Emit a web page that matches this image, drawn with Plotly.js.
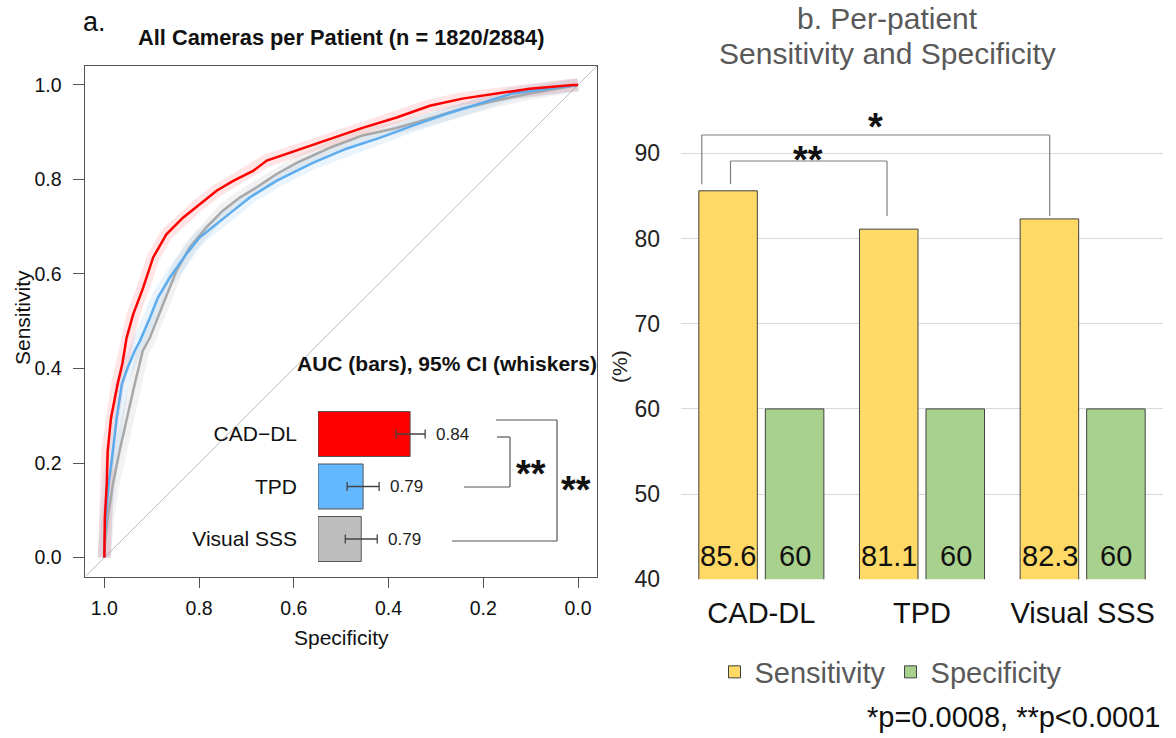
<!DOCTYPE html>
<html>
<head>
<meta charset="utf-8">
<script src="https://cdn.plot.ly/plotly-3.0.1.min.js"></script>
<style>html,body{margin:0;padding:0;background:#fff;}#chart{width:1176px;height:738px;}</style>
</head>
<body>
<div id="chart"></div>
<script>
// ---------- Panel a: ROC curves (specificity, sensitivity) ----------
const specCAD = [1.000,1.000,0.999,0.995,0.993,0.986,0.972,0.962,0.953,0.939,0.918,0.897,0.869,0.834,0.799,0.763,0.728,0.686,0.657,0.594,0.524,0.455,0.383,0.313,0.244,0.172,0.102,0.011,0.000];
const sensCAD = [0.000,0.028,0.083,0.155,0.225,0.295,0.367,0.410,0.465,0.515,0.571,0.635,0.684,0.719,0.748,0.776,0.797,0.818,0.840,0.861,0.886,0.909,0.931,0.956,0.971,0.982,0.992,1.000,1.000];
const specTPD = [1.000,1.000,0.997,0.991,0.982,0.974,0.963,0.951,0.936,0.925,0.904,0.887,0.862,0.827,0.799,0.763,0.728,0.693,0.658,0.637,0.560,0.489,0.419,0.349,0.277,0.208,0.138,0.066,0.000];
const sensTPD = [0.000,0.028,0.083,0.155,0.225,0.295,0.367,0.401,0.437,0.458,0.507,0.550,0.592,0.642,0.677,0.705,0.734,0.762,0.783,0.797,0.835,0.865,0.888,0.914,0.939,0.960,0.982,0.992,1.000];
const specSSS = [1.000,0.999,0.993,0.982,0.968,0.953,0.936,0.919,0.904,0.876,0.848,0.820,0.785,0.750,0.714,0.679,0.637,0.594,0.524,0.455,0.383,0.313,0.244,0.172,0.102,0.000];
const sensSSS = [0.000,0.028,0.083,0.155,0.225,0.295,0.367,0.437,0.465,0.536,0.606,0.656,0.698,0.734,0.762,0.783,0.811,0.835,0.867,0.893,0.909,0.929,0.950,0.967,0.982,1.000];

// ---------- Panel a inset: AUC bars with 95% CI ----------
const aucLabels = ['CAD\u2212DL', 'TPD', 'Visual SSS'];
const aucValues = [0.840, 0.790, 0.788];
const aucLower  = [0.825, 0.773, 0.771];
const aucUpper  = [0.856, 0.807, 0.805];
const insetBase = 0.742;

// ---------- Panel b: sensitivity / specificity ----------
const categories  = ['CAD-DL', 'TPD', 'Visual SSS'];
const sensitivity = [85.6, 81.1, 82.3];
const specificity = [60, 60, 60];
const yTicks = [40, 50, 60, 70, 80, 90];

const W = 1176, H = 738;
const px = x => x / W;
const py = y => 1 - y / H;
const FONT = 'Liberation Sans, Arial, sans-serif';

const cRed = '#FF0000', cBlue = '#5CACEE', cGray = '#A8A8A8';

const traces = [];
// CI-like halos
[[specSSS, sensSSS, 'rgba(170,170,170,0.15)'], [specTPD, sensTPD, 'rgba(92,172,238,0.13)'], [specCAD, sensCAD, 'rgba(255,0,0,0.10)']].forEach(d => {
  traces.push({type:'scatter', mode:'lines', x:d[0], y:d[1], xaxis:'x', yaxis:'y',
    line:{color:d[2], width:13, shape:'linear'}, hoverinfo:'skip', showlegend:false});
});
[[specSSS, sensSSS, cGray], [specTPD, sensTPD, cBlue], [specCAD, sensCAD, cRed]].forEach(d => {
  traces.push({type:'scatter', mode:'lines', x:d[0], y:d[1], xaxis:'x', yaxis:'y',
    line:{color:d[2], width:2.5, shape:'linear'}, showlegend:false});
});

// inset bars
traces.push({type:'bar', orientation:'h', y:aucLabels, x:aucValues.map(v => v - insetBase), base:insetBase,
  xaxis:'x3', yaxis:'y3', width:0.857, showlegend:false,
  marker:{color:['#FF0000', '#63B8FF', '#BEBEBE'], line:{color:'#555555', width:1}}});
traces.push({type:'scatter', mode:'markers', y:aucLabels, x:aucValues, xaxis:'x3', yaxis:'y3', showlegend:false,
  marker:{size:1, color:'rgba(0,0,0,0)'},
  error_x:{type:'data', symmetric:false, array:aucUpper.map((u,i) => u - aucValues[i]),
    arrayminus:aucLower.map((l,i) => aucValues[i] - l), color:'#444444', thickness:1.3, width:4.5}});

// panel b bars
traces.push({type:'bar', name:'Sensitivity', x:categories, y:sensitivity, xaxis:'x2', yaxis:'y2',
  marker:{color:'#FFD966', line:{color:'#404040', width:1}}});
traces.push({type:'bar', name:'Specificity', x:categories, y:specificity, xaxis:'x2', yaxis:'y2',
  marker:{color:'#A9D18E', line:{color:'#404040', width:1}}});

const ann = [];
const A = (o) => ann.push(Object.assign({showarrow:false, xref:'paper', yref:'paper', font:{family:FONT, size:20, color:'#111'}}, o));

A({text:'a.', x:px(81), y:py(22), xanchor:'left', yanchor:'middle', font:{family:FONT, size:27, color:'#111'}});
A({text:'<b>All Cameras per Patient (n = 1820/2884)</b>', x:px(341), y:py(37), xanchor:'center', yanchor:'middle', font:{family:FONT, size:21.8, color:'#111'}});
A({text:'Sensitivity', x:px(22), y:py(318), textangle:-90, xanchor:'center', yanchor:'middle', font:{family:FONT, size:21, color:'#111'}});
A({text:'Specificity', x:px(341), y:py(637), xanchor:'center', yanchor:'middle', font:{family:FONT, size:21, color:'#111'}});
A({text:'<b>AUC (bars), 95% CI (whiskers)</b>', x:px(446.5), y:py(363), xanchor:'center', yanchor:'middle', font:{family:FONT, size:21, color:'#111'}});
aucLabels.forEach((lab, i) => {
  A({text:aucValues[i].toFixed(2), xref:'x3', yref:'y3', x:aucUpper[i], y:lab, xanchor:'left', yanchor:'middle', xshift:9, font:{family:FONT, size:17, color:'#222'}});
});
A({text:'<b>**</b>', x:px(531), y:py(474), xanchor:'center', yanchor:'middle', font:{family:FONT, size:38, color:'#111'}});
A({text:'<b>**</b>', x:px(576), y:py(490), xanchor:'center', yanchor:'middle', font:{family:FONT, size:38, color:'#111'}});

// panel b texts
A({text:'b. Per-patient', x:px(887), y:py(19), xanchor:'center', yanchor:'middle', font:{family:FONT, size:30, color:'#595959'}});
A({text:'Sensitivity and Specificity', x:px(887), y:py(54), xanchor:'center', yanchor:'middle', font:{family:FONT, size:30, color:'#595959'}});
A({text:'(%)', x:px(619), y:py(367), textangle:-90, xanchor:'center', yanchor:'middle', font:{family:FONT, size:21, color:'#222'}});
A({text:'<b>*</b>', xref:'x2', yref:'paper', x:0.7116, y:py(127), xanchor:'center', yanchor:'middle', font:{family:FONT, size:38, color:'#111'}});
A({text:'<b>**</b>', xref:'x2', yref:'paper', x:0.2884, y:py(160), xanchor:'center', yanchor:'middle', font:{family:FONT, size:38, color:'#111'}});
categories.forEach((c, i) => {
  A({text:String(sensitivity[i]), xref:'x2', yref:'y2', x:c, y:40, xshift:-33, yshift:5, xanchor:'center', yanchor:'bottom', font:{family:FONT, size:29, color:'#111'}});
  A({text:String(specificity[i]), xref:'x2', yref:'y2', x:c, y:40, xshift:33.5, yshift:5, xanchor:'center', yanchor:'bottom', font:{family:FONT, size:29, color:'#111'}});
});
A({text:'*p=0.0008, **p<0.0001', x:px(1163), y:py(717), xanchor:'right', yanchor:'middle', font:{family:FONT, size:29, color:'#111'}});

const shapes = [];
// diagonal reference line
shapes.push({type:'line', xref:'x', yref:'y', x0:1.04, y0:-0.04, x1:-0.04, y1:1.04, line:{color:'#BDBDBD', width:1}, layer:'below'});
const L = (x0,y0,x1,y1,extra) => shapes.push(Object.assign({type:'line', xref:'paper', yref:'paper', x0:px(x0), y0:py(y0), x1:px(x1), y1:py(y1), line:{color:'#555555', width:1.2}}, extra||{}));
// inset brackets
L(496, 420, 557, 420); L(557, 420, 557, 541); L(452, 541, 557, 541);
L(497, 437, 510, 437); L(510, 437, 510, 487); L(464, 487, 510, 487);
// panel b brackets (x in category units on x2, y in % on y2)
const B = (x0,y0,x1,y1) => shapes.push({type:'line', xref:'x2', yref:'y2', x0:x0, y0:y0, x1:x1, y1:y1, line:{color:'#7F7F7F', width:1.2}});
B(-0.3706, 86.36, -0.3706, 92.15); B(-0.3706, 92.15, 1.7946, 92.15); B(1.7946, 92.15, 1.7946, 82.64);
B(-0.1919, 86.36, -0.1919, 89.10); B(-0.1919, 89.10, 0.7822, 89.10); B(0.7822, 89.10, 0.7822, 82.64);

const layout = {
  width:W, height:H, margin:{l:0, r:0, t:0, b:0},
  paper_bgcolor:'#ffffff', plot_bgcolor:'rgba(0,0,0,0)',
  font:{family:FONT, color:'#111'},
  barmode:'group', bargap:0.172, bargroupgap:0.12,
  showlegend:true,
  legend:{orientation:'h', x:px(891), xanchor:'center', y:py(672), yanchor:'middle',
    font:{family:FONT, size:29, color:'#595959'}, itemwidth:30, bgcolor:'rgba(0,0,0,0)', traceorder:'normal'},
  xaxis:{domain:[px(85.4), px(597)], anchor:'y', range:[1.04, -0.04], tickvals:[1,0.8,0.6,0.4,0.2,0],
    ticktext:['1.0','0.8','0.6','0.4','0.2','0.0'], ticks:'outside', ticklen:10, tickcolor:'#555', tickwidth:1,
    ticklabelstandoff:4, tickfont:{family:FONT, size:19.5, color:'#111'},
    showgrid:false, zeroline:false, showline:true, mirror:true, linecolor:'#555', linewidth:1},
  yaxis:{domain:[py(576.5), py(66)], anchor:'x', range:[-0.04, 1.04], tickvals:[0,0.2,0.4,0.6,0.8,1],
    ticktext:['0.0','0.2','0.4','0.6','0.8','1.0'], ticks:'outside', ticklen:11, tickcolor:'#555', tickwidth:1,
    ticklabelstandoff:8, tickfont:{family:FONT, size:19.5, color:'#111'},
    showgrid:false, zeroline:false, showline:true, mirror:true, linecolor:'#555', linewidth:1},
  xaxis3:{domain:[px(318), px(597)], anchor:'y3', range:[insetBase, insetBase + 279/940], visible:false, fixedrange:true},
  yaxis3:{domain:[py(565.25), py(407.75)], anchor:'x3', type:'category', categoryarray:aucLabels, categoryorder:'array',
    autorange:'reversed', ticks:'', showgrid:false, zeroline:false, showline:false, ticklabelstandoff:20,
    tickfont:{family:FONT, size:21, color:'#111'}},
  xaxis2:{domain:[px(681), px(1163)], anchor:'y2', type:'category', ticks:'', showline:false, showgrid:false, zeroline:false,
    ticklabelstandoff:14, tickfont:{family:FONT, size:29, color:'#111'}},
  yaxis2:{domain:[py(579.3), py(102.2)], anchor:'x2', range:[40, 96], tickvals:yTicks, ticks:'', showline:false,
    showgrid:true, gridcolor:'#D9D9D9', gridwidth:1, zeroline:false, ticklabelstandoff:20,
    tickfont:{family:FONT, size:23, color:'#222'}},
  annotations:ann, shapes:shapes
};

Plotly.newPlot('chart', traces, layout, {staticPlot:true, displayModeBar:false});
</script>
</body>
</html>
